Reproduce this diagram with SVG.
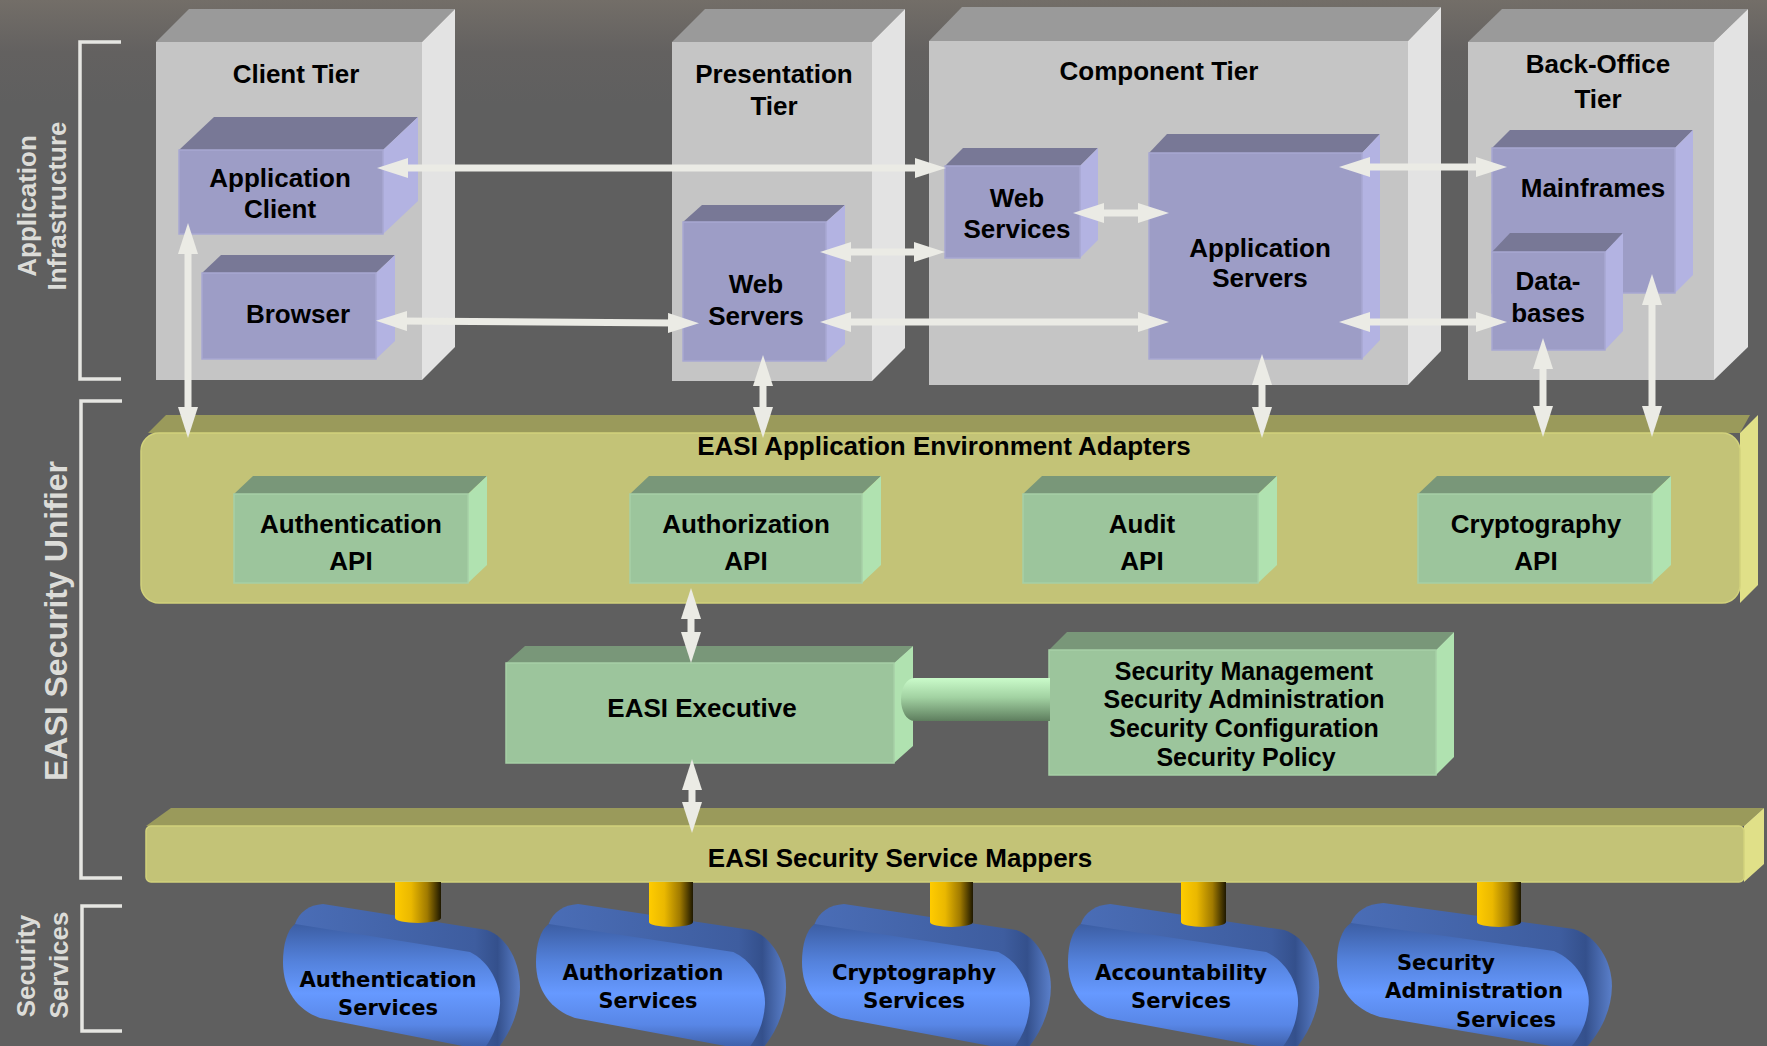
<svg xmlns="http://www.w3.org/2000/svg" width="1767" height="1046" viewBox="0 0 1767 1046">
<defs>
<style>
.t{font-family:"Liberation Sans",Arial,Helvetica,sans-serif;font-weight:bold;font-size:26px;fill:#000;text-anchor:middle}
.s{font-size:25px}
.lbl{font-family:"Liberation Sans",Arial,Helvetica,sans-serif;font-weight:bold;fill:#dcdcd8;text-anchor:middle}
.dt{font-family:"DejaVu Sans",Verdana,sans-serif;font-weight:bold;font-size:22px;fill:#000;text-anchor:middle}
.brk{fill:none;stroke:#e6e6e2;stroke-width:3.5}
.tf{fill:#c5c5c5}.tt{fill:#9a9a9a}.ts{fill:#e3e3e3}
.pf{fill:#9d9dc6;stroke:#a8a8d2;stroke-width:1.5}.pt{fill:#787896}.ps{fill:#b3b3e2}
.gf{fill:#9cc59c;stroke:#a6cfa6;stroke-width:1.5}.gt{fill:#799779}.gs{fill:#b0e2b0}
.yf{fill:#c3c377;stroke:#d2d27c;stroke-width:1.5}.yt{fill:#9a9a5b}.ys{fill:#e0e088}
.arr{stroke:#ebebe5;stroke-width:7;fill:none;marker-start:url(#ah);marker-end:url(#ah)}
</style>
<linearGradient id="bg" x1="0" y1="0" x2="0" y2="1">
<stop offset="0" stop-color="#736e68"/><stop offset="0.05" stop-color="#636160"/><stop offset="0.1" stop-color="#5f5f5f"/><stop offset="1" stop-color="#5f5f5f"/>
</linearGradient>
<linearGradient id="drumF" x1="0" y1="0" x2="0" y2="1">
<stop offset="0" stop-color="#3c5ea4"/><stop offset="0.3" stop-color="#5482dc"/><stop offset="0.55" stop-color="#6699ff"/><stop offset="0.8" stop-color="#5886e6"/><stop offset="1" stop-color="#3b5ba0"/>
</linearGradient>
<linearGradient id="drumB" x1="0" y1="0" x2="1" y2="0">
<stop offset="0" stop-color="#4a6db6"/><stop offset="0.8" stop-color="#3e5d9f"/><stop offset="0.9" stop-color="#34508c"/><stop offset="1" stop-color="#5a7fca"/>
</linearGradient>
<linearGradient id="pil" x1="0" y1="0" x2="1" y2="0">
<stop offset="0" stop-color="#ffcc00"/><stop offset="0.35" stop-color="#eab800"/><stop offset="0.7" stop-color="#a07a00"/><stop offset="1" stop-color="#1e1800"/>
</linearGradient>
<linearGradient id="pipe" x1="0" y1="0" x2="0" y2="1">
<stop offset="0" stop-color="#cafbca"/><stop offset="0.45" stop-color="#a2d2a2"/><stop offset="1" stop-color="#5e7e5e"/>
</linearGradient>
<marker id="ah" viewBox="0 0 31 20" refX="7" refY="10" markerWidth="31" markerHeight="20" markerUnits="userSpaceOnUse" orient="auto-start-reverse">
<path d="M0,0 L31,10 L0,20 Z" fill="#ebebe5"/>
</marker>
<g id="drum">
<path d="M12,924 C16,912 26,905 40,904 L204,930 C224,937 237,962 237,987 C237,1012 226,1036 212,1052 L200,1050 Z" fill="url(#drumB)"/>
<path d="M12,924 L187,952 C207,962 218,985 217,1005 C216,1022 210,1038 200,1050 L37,1018 C14,1010 0,990 0,962 C0,945 4,930 12,924 Z" fill="url(#drumF)"/>
</g>
</defs>

<rect x="0" y="0" width="1767" height="1046" fill="url(#bg)"/>

<g id="labels">
<path class="brk" d="M121,42 H80 V379 H121"/>
<path class="brk" d="M122,401 H81 V878 H122"/>
<path class="brk" d="M122,906 H82 V1031 H122"/>
<text class="lbl" font-size="26" transform="translate(36,206) rotate(-90)">Application</text>
<text class="lbl" font-size="26" transform="translate(66,206) rotate(-90)">Infrastructure</text>
<text class="lbl" font-size="32" transform="translate(67,621) rotate(-90)">EASI Security Unifier</text>
<text class="lbl" font-size="26" transform="translate(35,966) rotate(-90)">Security</text>
<text class="lbl" font-size="26" transform="translate(68,965) rotate(-90)">Services</text>
</g>

<g id="client-tier">
<polygon class="tt" points="156,42 189,9 455,9 422,42"/>
<polygon class="ts" points="422,42 455,9 455,347 422,380"/>
<rect class="tf" x="156" y="42" width="266" height="338"/>
<text class="t" x="296" y="83">Client Tier</text>
</g>
<g id="presentation-tier">
<polygon class="tt" points="672,42 705,9 905,9 872,42"/>
<polygon class="ts" points="872,42 905,9 905,348 872,381"/>
<rect class="tf" x="672" y="42" width="200" height="339"/>
<text class="t" x="774" y="83">Presentation</text>
<text class="t" x="774" y="115">Tier</text>
</g>
<g id="component-tier">
<polygon class="tt" points="929,41 962,7 1441,7 1408,41"/>
<polygon class="ts" points="1408,41 1441,7 1441,351 1408,385"/>
<rect class="tf" x="929" y="41" width="479" height="344"/>
<text class="t" x="1159" y="80">Component Tier</text>
</g>
<g id="back-office-tier">
<polygon class="tt" points="1468,42 1502,9 1748,9 1714,42"/>
<polygon class="ts" points="1714,42 1748,9 1748,347 1714,380"/>
<rect class="tf" x="1468" y="42" width="246" height="338"/>
<text class="t" x="1598" y="73">Back-Office</text>
<text class="t" x="1598" y="108">Tier</text>
</g>

<g id="application-client">
<polygon class="pt" points="179,150 214,117 418,117 383,150"/>
<polygon class="ps" points="383,150 418,117 418,201 383,234"/>
<rect class="pf" x="179" y="150" width="204" height="84"/>
<text class="t" x="280" y="187">Application</text>
<text class="t" x="280" y="218">Client</text>
</g>
<g id="browser">
<polygon class="pt" points="202,273 221,255 395,255 376,273"/>
<polygon class="ps" points="376,273 395,255 395,341 376,359"/>
<rect class="pf" x="202" y="273" width="174" height="86"/>
<text class="t" x="298" y="323">Browser</text>
</g>
<g id="web-servers">
<polygon class="pt" points="683,222 702,205 845,205 826,222"/>
<polygon class="ps" points="826,222 845,205 845,344 826,361"/>
<rect class="pf" x="683" y="222" width="143" height="139"/>
<text class="t" x="756" y="293">Web</text>
<text class="t" x="756" y="325">Servers</text>
</g>
<g id="web-services">
<polygon class="pt" points="945,166 963,148 1098,148 1080,166"/>
<polygon class="ps" points="1080,166 1098,148 1098,240 1080,258"/>
<rect class="pf" x="945" y="166" width="135" height="92"/>
<text class="t" x="1017" y="207">Web</text>
<text class="t" x="1017" y="238">Services</text>
</g>
<g id="application-servers">
<polygon class="pt" points="1149,153 1167,134 1380,134 1362,153"/>
<polygon class="ps" points="1362,153 1380,134 1380,340 1362,359"/>
<rect class="pf" x="1149" y="153" width="213" height="206"/>
<text class="t" x="1260" y="257">Application</text>
<text class="t" x="1260" y="287">Servers</text>
</g>
<g id="mainframes">
<polygon class="pt" points="1492,148 1510,130 1693,130 1675,148"/>
<polygon class="ps" points="1675,148 1693,130 1693,275 1675,293"/>
<rect class="pf" x="1492" y="148" width="183" height="145"/>
<text class="t" x="1593" y="197">Mainframes</text>
</g>
<g id="databases">
<polygon class="pt" points="1492,252 1510,233 1623,233 1605,252"/>
<polygon class="ps" points="1605,252 1623,233 1623,331 1605,350"/>
<rect class="pf" x="1492" y="252" width="113" height="98"/>
<text class="t" x="1548" y="290">Data-</text>
<text class="t" x="1548" y="322">bases</text>
</g>

<g id="adapters">
<polygon class="yt" points="148,433 166,415 1750,415 1740,433"/>
<polygon class="ys" points="1740,433 1758,415 1758,585 1740,603"/>
<rect class="yf" x="141" y="433" width="1599" height="170" rx="18"/>
<text class="t" x="944" y="455">EASI Application Environment Adapters</text>
</g>
<g id="authentication-api">
<polygon class="gt" points="234,494 253,476 487,476 468,494"/>
<polygon class="gs" points="468,494 487,476 487,565 468,583"/>
<rect class="gf" x="234" y="494" width="234" height="89"/>
<text class="t" x="351" y="533">Authentication</text>
<text class="t" x="351" y="570">API</text>
</g>
<g id="authorization-api">
<polygon class="gt" points="630,494 649,476 881,476 862,494"/>
<polygon class="gs" points="862,494 881,476 881,565 862,583"/>
<rect class="gf" x="630" y="494" width="232" height="89"/>
<text class="t" x="746" y="533">Authorization</text>
<text class="t" x="746" y="570">API</text>
</g>
<g id="audit-api">
<polygon class="gt" points="1023,494 1042,476 1277,476 1258,494"/>
<polygon class="gs" points="1258,494 1277,476 1277,565 1258,583"/>
<rect class="gf" x="1023" y="494" width="235" height="89"/>
<text class="t" x="1142" y="533">Audit</text>
<text class="t" x="1142" y="570">API</text>
</g>
<g id="cryptography-api">
<polygon class="gt" points="1418,494 1437,476 1671,476 1652,494"/>
<polygon class="gs" points="1652,494 1671,476 1671,565 1652,583"/>
<rect class="gf" x="1418" y="494" width="234" height="89"/>
<text class="t" x="1536" y="533">Cryptography</text>
<text class="t" x="1536" y="570">API</text>
</g>

<g id="easi-executive">
<polygon class="gt" points="506,663 525,646 913,646 894,663"/>
<polygon class="gs" points="894,663 913,646 913,746 894,763"/>
<rect class="gf" x="506" y="663" width="388" height="100"/>
<text class="t" x="702" y="717">EASI Executive</text>
</g>
<g id="security-management">
<polygon class="gt" points="1049,650 1067,632 1454,632 1436,650"/>
<polygon class="gs" points="1436,650 1454,632 1454,757 1436,775"/>
<rect class="gf" x="1049" y="650" width="387" height="125"/>
<text class="t s" x="1244" y="680">Security Management</text>
<text class="t s" x="1244" y="708">Security Administration</text>
<text class="t s" x="1244" y="737">Security Configuration</text>
<text class="t s" x="1246" y="766">Security Policy</text>
</g>

<g id="mappers">
<polygon class="yt" points="146,826 171,808 1764,808 1744,826"/>
<polygon class="ys" points="1744,826 1764,808 1764,864 1744,882"/>
<rect class="yf" x="146" y="826" width="1598" height="56" rx="5"/>
<text class="t" x="900" y="867">EASI Security Service Mappers</text>
</g>

<g id="authentication-services">
<use href="#drum" transform="translate(283,0)"/>
<text class="dt" x="388" y="987" textLength="177" lengthAdjust="spacingAndGlyphs">Authentication</text>
<text class="dt" x="388" y="1015" textLength="100" lengthAdjust="spacingAndGlyphs">Services</text>
</g>
<g id="authorization-services">
<use href="#drum" transform="translate(536,0) scale(1.055,1)"/>
<text class="dt" x="643" y="980" textLength="161" lengthAdjust="spacingAndGlyphs">Authorization</text>
<text class="dt" x="648" y="1008" textLength="99" lengthAdjust="spacingAndGlyphs">Services</text>
</g>
<g id="cryptography-services">
<use href="#drum" transform="translate(802,0) scale(1.05,1)"/>
<text class="dt" x="914" y="980" textLength="164" lengthAdjust="spacingAndGlyphs">Cryptography</text>
<text class="dt" x="914" y="1008" textLength="102" lengthAdjust="spacingAndGlyphs">Services</text>
</g>
<g id="accountability-services">
<use href="#drum" transform="translate(1068,0) scale(1.06,1)"/>
<text class="dt" x="1181" y="980" textLength="172" lengthAdjust="spacingAndGlyphs">Accountability</text>
<text class="dt" x="1181" y="1008" textLength="100" lengthAdjust="spacingAndGlyphs">Services</text>
</g>
<g id="security-administration-services">
<use href="#drum" transform="translate(1337,-1) scale(1.16,1)"/>
<text class="dt" x="1446" y="970" textLength="98" lengthAdjust="spacingAndGlyphs">Security</text>
<text class="dt" x="1474" y="998" textLength="178" lengthAdjust="spacingAndGlyphs">Administration</text>
<text class="dt" x="1506" y="1027" textLength="100" lengthAdjust="spacingAndGlyphs">Services</text>
</g>

<g id="connectors">
<path d="M1050,678 L914,678 A13,21.5 0 0 0 914,721 L1050,721 Z" fill="url(#pipe)"/>
<path d="M395,882 V918 A23,5 0 0 0 441,918 V882 Z" fill="url(#pil)"/>
<path d="M649,882 V922 A22,5 0 0 0 693,922 V882 Z" fill="url(#pil)"/>
<path d="M930,882 V922 A21.5,5 0 0 0 973,922 V882 Z" fill="url(#pil)"/>
<path d="M1181,882 V922 A22.5,5 0 0 0 1226,922 V882 Z" fill="url(#pil)"/>
<path d="M1477,882 V922 A22,5 0 0 0 1521,922 V882 Z" fill="url(#pil)"/>
<line class="arr" x1="401" y1="168" x2="922" y2="168"/>
<line class="arr" x1="400" y1="321" x2="675" y2="323"/>
<line class="arr" x1="844" y1="252" x2="921" y2="252"/>
<line class="arr" x1="1097" y1="213" x2="1145" y2="213"/>
<line class="arr" x1="844" y1="322" x2="1145" y2="322"/>
<line class="arr" x1="1363" y1="167" x2="1483" y2="167"/>
<line class="arr" x1="1363" y1="322" x2="1483" y2="322"/>
<line class="arr" x1="188" y1="247" x2="188" y2="414"/>
<line class="arr" x1="763" y1="379" x2="763" y2="414"/>
<line class="arr" x1="1262" y1="378" x2="1262" y2="414"/>
<line class="arr" x1="1543" y1="362" x2="1543" y2="413"/>
<line class="arr" x1="1652" y1="298" x2="1652" y2="413"/>
<line class="arr" x1="691" y1="612" x2="691" y2="639"/>
<line class="arr" x1="692" y1="783" x2="692" y2="809"/>
</g>
</svg>
